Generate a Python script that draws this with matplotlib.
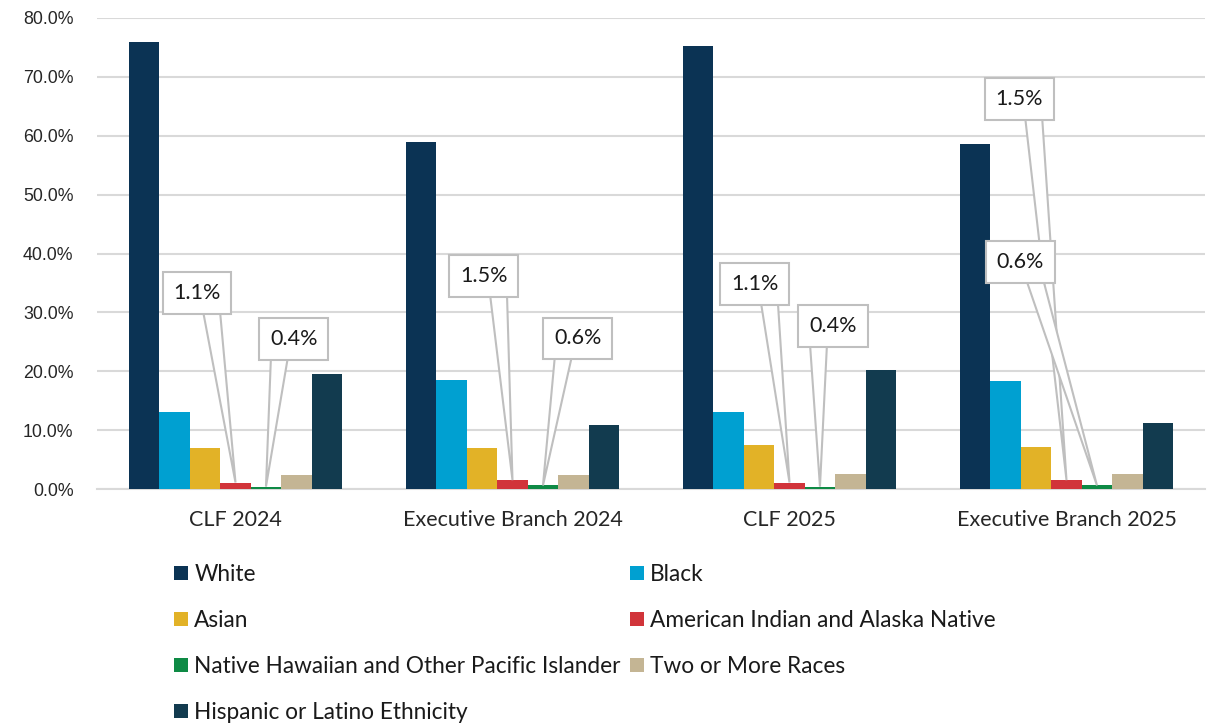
import numpy as np
import matplotlib.pyplot as plt
from matplotlib.patches import Polygon

plt.rcParams['font.family'] = ['Lato', 'DejaVu Sans']

categories = ['CLF 2024', 'Executive Branch 2024', 'CLF 2025', 'Executive Branch 2025']
series = ['White', 'Black', 'Asian', 'American Indian and Alaska Native',
          'Native Hawaiian and Other Pacific Islander', 'Two or More Races',
          'Hispanic or Latino Ethnicity']
white = [75.9, 58.9, 75.2, 58.6]
black = [13.1, 18.5, 13.1, 18.3]
asian = [7.0, 7.0, 7.5, 7.1]
aian = [1.1, 1.5, 1.1, 1.5]
nhpi = [0.4, 0.6, 0.4, 0.6]
two_more = [2.3, 2.4, 2.5, 2.5]
hispanic = [19.6, 10.9, 20.2, 11.2]
values = [white, black, asian, aian, nhpi, two_more, hispanic]
colors = ['#0b3354', '#00a0d1', '#e2b227', '#d1343a', '#0e8a45', '#c4b594', '#123b4f']

# callout box centres (x in category units, y in %)
aian_box = [(-0.139, 33.3), (0.897, 36.2), (1.875, 34.8), (2.829, 66.2)]
nhpi_box = [(0.211, 25.5), (1.236, 25.6), (2.157, 27.7), (2.833, 38.6)]

W, H = 1207, 725
fig = plt.figure(figsize=(W / 100, H / 100), dpi=100)
ax_l, ax_r, ax_b, ax_t = 97, 1205, 489, 18
ax = fig.add_axes([ax_l / W, 1 - ax_b / H, (ax_r - ax_l) / W, (ax_b - ax_t) / H])

x = np.arange(len(categories))
n = len(series)
w = 0.77 / n
for i, (name, vals, c) in enumerate(zip(series, values, colors)):
    ax.bar(x + (i - (n - 1) / 2) * w, vals, w, color=c, label=name, zorder=3)

ax.set_ylim(0, 80)
ax.set_xlim(-0.5, 3.5)

# pixel -> data scale for the callout wedges
sx = 4 / (ax_r - ax_l)
sy = 80 / (ax_b - ax_t)
for idx, boxes in [(3, aian_box), (4, nhpi_box)]:
    for j, (bx, by) in enumerate(boxes):
        px = x[j] + (idx - (n - 1) / 2) * w
        py = values[idx][j]
        d = 1 if px > bx else -1
        base_y = by - 18 * sy
        x1 = bx + d * 6 * sx
        x2 = bx + d * 23 * sx
        ax.add_patch(Polygon([(x1, base_y), (x2, base_y), (px, py)], closed=True,
                             fc='white', ec='#bfbfbf', lw=1.5, zorder=4, joinstyle='miter'))
        ax.text(bx, by, f'{py:.1f}%', ha='center', va='center', fontsize=15.5,
                color='#1a1a1a', zorder=5,
                bbox=dict(boxstyle='square,pad=0.5', fc='white', ec='#bfbfbf', lw=1.5))

ax.set_yticks(np.arange(0, 81, 10))
ax.set_yticklabels([f'{v:.1f}%' for v in np.arange(0, 81, 10)],
                   family=['Liberation Sans', 'DejaVu Sans'], fontsize=12.8)
ax.set_xticks(x)
ax.set_xticklabels(categories, fontsize=15.5)
ax.tick_params(axis='both', length=0, colors='#262626')
ax.tick_params(axis='y', pad=17)
ax.tick_params(axis='x', pad=15)
ax.grid(axis='y', color='#d9d9d9', lw=1.5, zorder=0)
for s in ['top', 'right', 'left']:
    ax.spines[s].set_visible(False)
ax.spines['bottom'].set_color('#d9d9d9')
ax.spines['bottom'].set_linewidth(1.5)

order = [0, 2, 4, 6, 1, 3, 5]
h, l = ax.get_legend_handles_labels()
leg = fig.legend([h[k] for k in order], [l[k] for k in order], ncol=2, loc='upper left',
                 bbox_to_anchor=(174 / W, 1 - 564 / H), frameon=False, fontsize=16.3,
                 handlelength=0.6, handleheight=0.6, handletextpad=0.3,
                 labelspacing=1.1, columnspacing=0.4, borderaxespad=0, borderpad=0)
for t in leg.get_texts():
    t.set_color('#1a1a1a')

fig.savefig('out.png', dpi=100)
